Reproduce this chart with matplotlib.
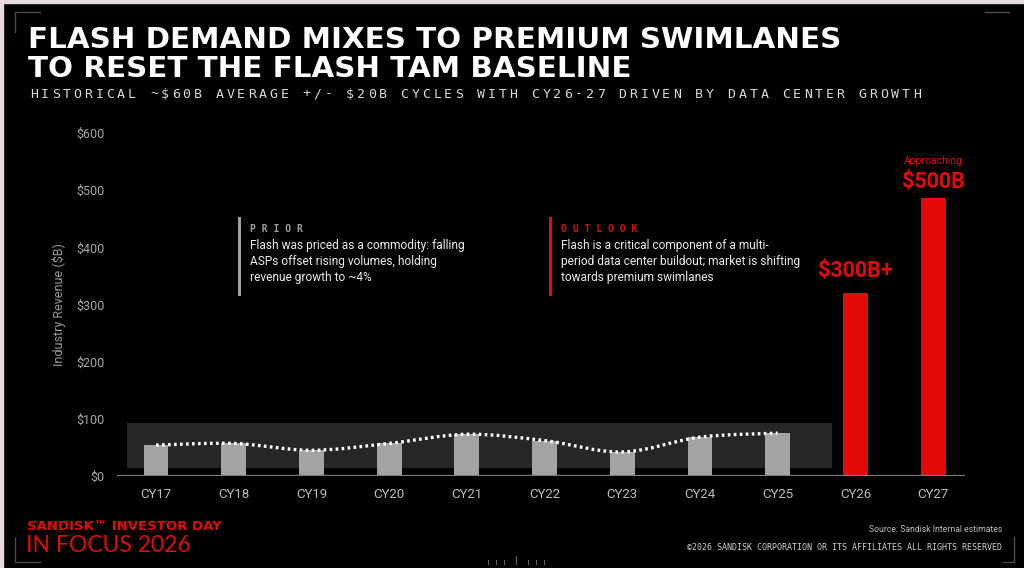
import numpy as np
import matplotlib.pyplot as plt
from matplotlib.path import Path
from matplotlib.patches import PathPatch, Rectangle
from matplotlib.lines import Line2D

# data
years = ['CY17', 'CY18', 'CY19', 'CY20', 'CY21', 'CY22', 'CY23', 'CY24', 'CY25', 'CY26', 'CY27']
revenue = [54, 57, 45, 57, 73, 62, 42, 68, 75, 320, 487]
n_hist = 9
band_low, band_high = 14, 93
yticks = [0, 100, 200, 300, 400, 500, 600]
ytick_labels = ['$0', '$100', '$200', '$300', '$400', '$500', '$600']

title_lines = ['FLASH DEMAND MIXES TO PREMIUM SWIMLANES', 'TO RESET THE FLASH TAM BASELINE']
subtitle = 'HISTORICAL ~$60B AVERAGE +/- $20B CYCLES WITH CY26-27 DRIVEN BY DATA CENTER GROWTH'
prior_text = 'Flash was priced as a commodity: falling\nASPs offset rising volumes, holding\nrevenue growth to ~4%'
outlook_text = ('Flash is a critical component of a multi-\nperiod data center buildout; market is shifting\n'
                'towards premium swimlanes')

W, H = 1024, 568
RED = '#e30a0a'
GRAY_BAR = '#a3a3a3'
BG = '#000000'


def px(x, y):
    # pixel coords (from top-left) -> figure fraction
    return x / W, 1 - y / H


def spaced(fig, x, y, s, step, **kw):
    # letter-spaced text, one glyph per step pixels
    for i, ch in enumerate(s):
        if ch != ' ':
            fig.text(*px(x + step * i, y), ch, ha='left', va='center', **kw)


fig = plt.figure(figsize=(W / 100, H / 100), dpi=100, facecolor=BG)

# light strip on the top and left edges like the screenshot
fig.patches.append(Rectangle((0, 1 - 3 / H), 1, 3 / H, transform=fig.transFigure, color='#e8dcdc', zorder=0))
fig.patches.append(Rectangle((0, 0), 3 / W, 1, transform=fig.transFigure, color='#e8dcdc', zorder=0))

# corner brackets
for xs, ys in [([15, 15, 40], [32, 12, 12]), ([1009, 1009, 985], [12, 12, 12]),
               ([15, 15, 40], [538, 562, 562]), ([1014, 1014, 1003], [537, 562, 562])]:
    fig.lines.append(Line2D([x / W for x in xs], [1 - y / H for y in ys], transform=fig.transFigure,
                            color='#4a4a4a', lw=1))

# title + subtitle
fig.text(*px(28, 40), title_lines[0], color='white', fontsize=21.2, fontweight='bold',
         family='DejaVu Sans', va='center', ha='left')
fig.text(*px(28, 69), title_lines[1], color='white', fontsize=21.2, fontweight='bold',
         family='DejaVu Sans', va='center', ha='left')
spaced(fig, 30, 94, subtitle, 10.9, color='#d9d9d9', fontsize=9.5, family='DejaVu Sans Mono')

# chart area
left_px, right_px, top_px, bot_px = 117, 965, 133, 476
ax = fig.add_axes([left_px / W, 1 - bot_px / H, (right_px - left_px) / W, (bot_px - top_px) / H])
ax.set_facecolor(BG)
x = np.arange(len(years))
ax.set_xlim(-0.502, 10.41)
ax.set_ylim(0, 600)

# historical range band
ax.add_patch(Rectangle((-0.37, band_low), n_hist - 1 + 0.7 + 0.37, band_high - band_low,
                       color='#262626', zorder=1, lw=0))

colors = [GRAY_BAR] * n_hist + [RED] * (len(years) - n_hist)
ax.bar(x, revenue, width=0.32, color=colors, zorder=2)

# smooth dotted trend through the historical bars (Catmull-Rom as bezier)
pts = np.column_stack([x[:n_hist], revenue[:n_hist]]).astype(float)
verts = [pts[0]]
codes = [Path.MOVETO]
for i in range(len(pts) - 1):
    p0 = pts[max(i - 1, 0)]
    p1 = pts[i]
    p2 = pts[i + 1]
    p3 = pts[min(i + 2, len(pts) - 1)]
    verts += [p1 + (p2 - p0) / 6, p2 - (p3 - p1) / 6, p2]
    codes += [Path.CURVE4] * 3
ax.add_patch(PathPatch(Path(verts, codes), fill=False, edgecolor='white', lw=2.4,
                       linestyle=(0, (0.8, 1.0)), zorder=3))

ax.axhline(0, color='#7a7a7a', lw=1.6, zorder=4)

for s in ax.spines.values():
    s.set_visible(False)
ax.set_yticks(yticks)
ax.set_yticklabels(ytick_labels)
ax.set_xticks(x)
ax.set_xticklabels(years)
ax.tick_params(length=0, colors='#a8a8a8')
ax.tick_params(axis='y', pad=9, labelsize=9)
ax.tick_params(axis='x', pad=9, labelsize=9.5, labelcolor='#bdbdbd')
for t in ax.get_xticklabels() + ax.get_yticklabels():
    t.set_family('Roboto')
ax.set_ylabel('Industry Revenue ($B)', color='#9a9a9a', fontsize=9, family='Roboto')
ax.yaxis.set_label_coords(-0.06, 0.5)

# value labels on the red bars
ax.annotate('$300B+', (9, revenue[9]), xytext=(0, 16), textcoords='offset points', ha='center',
            va='center', color=RED, fontsize=15.5, fontweight='bold', family='Roboto')
ax.annotate('$500B', (10, revenue[10]), xytext=(0, 11.5), textcoords='offset points', ha='center',
            va='center', color=RED, fontsize=15.5, fontweight='bold', family='Roboto')
ax.annotate('Approaching', (10, revenue[10]), xytext=(0, 26), textcoords='offset points', ha='center',
            va='center', color=RED, fontsize=7.5, family='Roboto')

# prior / outlook call-outs
for bx, head, body, col in [(239, 'P R I O R', prior_text, '#a0a0a0'),
                            (550, 'O U T L O O K', outlook_text, RED)]:
    fig.patches.append(Rectangle(px(bx - 1.5, 296), 3 / W, 79 / H, transform=fig.transFigure,
                                 color=col, lw=0))
    fig.text(*px(bx + 11, 229), head, color=col, fontsize=7, fontweight='bold',
             family='DejaVu Sans Mono', va='center', ha='left')
    fig.text(*px(bx + 11, 239), body, color='#ececec', fontsize=8.6, family='Roboto',
             va='top', ha='left', linespacing=1.3)

# footer
fig.text(*px(27, 527), 'SANDISK\u2122 INVESTOR DAY', color=RED, fontsize=9.5, fontweight='bold',
         family='DejaVu Sans', va='center', ha='left')
fig.text(*px(26, 546), 'IN FOCUS 2026', color=RED, fontsize=16.5, fontweight='normal',
         family='Lato', va='center', ha='left')
fig.text(*px(1002, 530), 'Source: Sandisk Internal estimates', color='#bdbdbd', fontsize=6.2,
         family='Roboto', va='center', ha='right')
fig.text(*px(1002, 548), '\u00a92026 SANDISK CORPORATION OR ITS AFFILIATES ALL RIGHTS RESERVED',
         color='#d0d0d0', fontsize=6, family='DejaVu Sans Mono', va='center', ha='right')

# small ruler marks at bottom centre
for mx in [488, 496, 504, 516, 528, 536, 544]:
    top = 556 if mx == 516 else 560
    fig.lines.append(Line2D([mx / W] * 2, [1 - top / H, 1 - 564 / H], transform=fig.transFigure,
                            color='#666666', lw=0.8))

fig.savefig('out.png', dpi=100, facecolor=BG)
